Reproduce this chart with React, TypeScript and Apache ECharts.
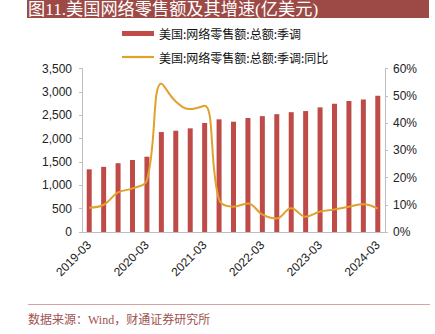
import React, { useEffect, useRef } from "react";
import * as echarts from "echarts";

const categories = [
  "2019-03", "2019-06", "2019-09", "2019-12",
  "2020-03", "2020-06", "2020-09", "2020-12",
  "2021-03", "2021-06", "2021-09", "2021-12",
  "2022-03", "2022-06", "2022-09", "2022-12",
  "2023-03", "2023-06", "2023-09", "2023-12",
  "2024-03",
];
const salesValues = [
  1342, 1395, 1473, 1541, 1612, 2140, 2168, 2219, 2333, 2412, 2361,
  2440, 2480, 2522, 2565, 2589, 2668, 2746, 2803, 2839, 2917,
];
const growthValues = [
  8.9, 10.0, 14.5, 16.0, 19.0, 54.5, 47.9, 45.1, 46.3, 11.8, 9.3,
  10.5, 6.4, 5.0, 8.7, 5.6, 7.5, 8.3, 9.3, 10.2, 8.6,
];
const seriesNames = ["美国:网络零售额:总额:季调", "美国:网络零售额:总额:季调:同比"];
const titleText = "图11.美国网络零售额及其增速(亿美元)";
const sourceText = "数据来源：Wind，财通证券研究所";

const CJK_SANS = "'Noto Sans CJK SC', 'Noto Sans', sans-serif";
const SERIF = "'Liberation Serif', 'DejaVu Serif', 'Noto Sans CJK SC', serif";
const AXIS_FONT = "'Liberation Sans', Arial, sans-serif";

export default function App() {
  const ref = useRef<HTMLDivElement>(null);
  useEffect(() => {
    if (!ref.current) return;
    const chart = echarts.init(ref.current, null, { renderer: "svg" });
    const axisColor = "#BFBFBF";
    const lineColor = "#E3A02B";
    chart.setOption({
      animation: false,
      backgroundColor: "#ffffff",
      graphic: [
        {
          type: "rect",
          shape: { x: 27, y: 0, width: 402, height: 18 },
          style: { fill: "#9D4A47" },
        },
        {
          type: "text",
          x: 28,
          y: 9,
          style: {
            text: titleText,
            fill: "#ffffff",
            font: `17.2px ${SERIF}`,
            verticalAlign: "middle",
          },
        },
        {
          type: "line",
          shape: { x1: 28, y1: 304.5, x2: 430, y2: 304.5 },
          style: { stroke: "#D6A5A3", lineWidth: 1 },
        },
        {
          type: "text",
          x: 28,
          y: 320,
          style: {
            text: sourceText,
            fill: "#A0524F",
            font: `12px ${SERIF}`,
            verticalAlign: "middle",
          },
        },
      ],
      legend: {
        orient: "vertical",
        left: 122,
        top: 27.5,
        padding: 0,
        itemWidth: 32,
        itemHeight: 5,
        itemGap: 11.5,
        symbolKeepAspect: true,
        textStyle: { fontSize: 12, fontFamily: CJK_SANS, color: "#111" },
        data: [
          { name: seriesNames[0], icon: "rect" },
          { name: seriesNames[1], icon: "path://M0,0L32,0L32,2.2L0,2.2Z" },
        ],
      },
      grid: { left: 82, right: 50, top: 68.5, bottom: 102, containLabel: false },
      xAxis: {
        type: "category",
        data: categories,
        boundaryGap: true,
        axisLine: { lineStyle: { color: axisColor } },
        axisTick: { show: false },
        axisLabel: {
          interval: 3,
          rotate: 45,
          margin: 11,
          fontSize: 12,
          fontFamily: AXIS_FONT,
          color: "#222",
        },
      },
      yAxis: [
        {
          type: "value",
          min: 0,
          max: 3500,
          interval: 500,
          splitLine: { show: false },
          axisLine: { show: true, lineStyle: { color: axisColor } },
          axisTick: { show: true, length: 3, lineStyle: { color: axisColor } },
          axisLabel: {
            fontSize: 12,
            fontFamily: AXIS_FONT,
            color: "#222",
            margin: 10,
            formatter: (v: number) => v.toLocaleString("en-US"),
          },
        },
        {
          type: "value",
          min: 0,
          max: 60,
          interval: 10,
          position: "right",
          splitLine: { show: false },
          axisLine: { show: true, lineStyle: { color: axisColor } },
          axisTick: { show: true, length: 3, lineStyle: { color: axisColor } },
          axisLabel: {
            fontSize: 12,
            fontFamily: AXIS_FONT,
            color: "#222",
            margin: 8,
            formatter: "{value}%",
          },
        },
      ],
      series: [
        {
          name: seriesNames[0],
          type: "bar",
          yAxisIndex: 0,
          data: salesValues,
          barWidth: 5,
          itemStyle: { color: "#BE4B48" },
        },
        {
          name: seriesNames[1],
          type: "line",
          yAxisIndex: 1,
          data: growthValues,
          smooth: 0.4,
          symbol: "none",
          showSymbol: false,
          lineStyle: { color: lineColor, width: 2 },
          itemStyle: { color: lineColor },
        },
      ],
    });
    return () => chart.dispose();
  }, []);
  return (
    <div
      ref={ref}
      style={{ position: "fixed", left: 0, top: 0, width: 435, height: 334 }}
    />
  );
}
